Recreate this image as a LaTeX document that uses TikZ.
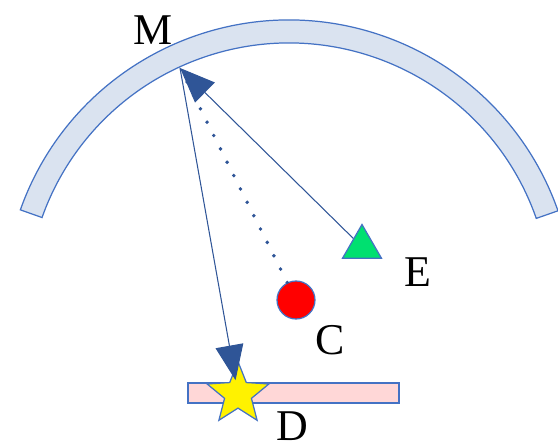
\documentclass[tikz,border=0pt]{standalone}
\usepackage{fontspec}
\setmainfont{Liberation Serif}
\usetikzlibrary{positioning, arrows.meta, shapes.geometric, calc}
\definecolor{lnblue}{RGB}{47,85,151}
\definecolor{edgeblue}{RGB}{68,114,196}
\definecolor{arcfill}{RGB}{218,227,240}
\definecolor{barpink}{RGB}{255,215,215}
\definecolor{triggreen}{RGB}{0,224,112}
\tikzset{
    mirror/.style={draw=edgeblue, fill=arcfill, line width=0.7pt},
    screen/.style={rectangle, draw=edgeblue, fill=barpink, line width=0.7pt, minimum width=4.22cm, minimum height=0.4cm, inner sep=0pt},
    src/.style={circle, draw=edgeblue, fill=red, line width=0.7pt, minimum size=0.76cm, inner sep=0pt},
    img/.style={star, star points=5, star point ratio=2.3, draw=edgeblue, fill=yellow, line width=0.7pt, minimum size=1.3cm, inner sep=0pt},
    obj/.style={regular polygon, regular polygon sides=3, draw=edgeblue, fill=triggreen, line width=0.7pt, minimum size=0.9cm, inner sep=0pt},
    lbl/.style={font=\fontsize{25}{30}\selectfont, inner sep=0pt},
    ray/.style={-{Triangle[length=0.7cm, width=0.56cm]}, color=lnblue, line width=0.6pt},
    dotray/.style={color=lnblue, line width=2.2pt, line cap=round, dash pattern=on 0pt off 8.5pt}
}
\begin{document}
\begin{tikzpicture}[x=0.02cm, y=0.02cm]
    \useasboundingbox (0,0) rectangle (558,445);
    % curved mirror
    \begin{scope}[shift={(289,140)}]
      \draw[mirror] (160.5:285) arc[start angle=160.5, end angle=19.3, radius=285]
        -- (19.3:262) arc[start angle=19.3, end angle=160.5, radius=262] -- cycle;
    \end{scope}
    \node[screen] (bar) at (293.5,52) {};
    \coordinate (M) at (180,377);
    \node[src] (C) at (296,145) {};
    \node[obj] (E) at (362,198) {};
    \node[img] (D) at (238,51) {};
    \draw[ray] (E) -- (M);
    \draw[ray, shorten >=0.28cm] (M) -- (D.center);
    \draw[dotray] (C) -- ($(M)!0.08cm!(C)$);
    \node[lbl] (Mlab) at (153,415) {M};
    \node[lbl] (Clab) at (330,105) {C};
    \node[lbl] (Elab) at (418,173) {E};
    \node[lbl] (Dlab) at (292,19) {D};
\end{tikzpicture}
\end{document}
